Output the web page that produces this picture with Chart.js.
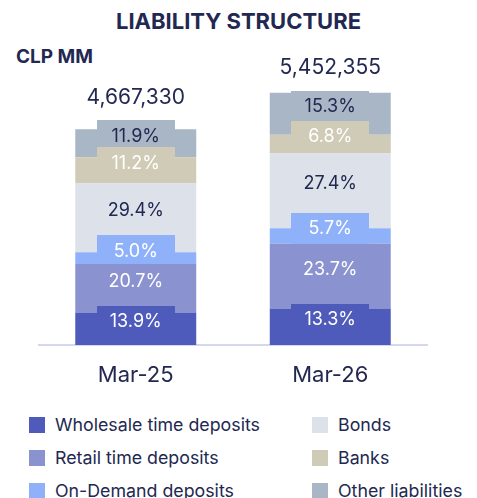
<!DOCTYPE html>
<html>
<head>
<meta charset="utf-8">
<script src="https://cdn.jsdelivr.net/npm/chart.js@4/dist/chart.umd.min.js"></script>
<style>
  html, body { margin:0; padding:0; background:#fff; }
  body { width:477px; height:498px; position:relative; overflow:hidden; font-family: Inter, "Noto Sans", sans-serif; color:#222851; }
  #c { position:absolute; left:0; top:0; }
  #title { position:absolute; left:0; width:477px; top:8px; text-align:center; font-weight:700; font-size:22px; letter-spacing:0px; }
  #unit { position:absolute; left:16px; top:45px; font-weight:700; font-size:19px; }
  .lg { position:absolute; font-size:17.8px; line-height:20px; white-space:nowrap; }
  .lg i { position:absolute; left:0; top:2px; width:16px; height:16px; }
  .lg span { position:absolute; left:26px; top:0; }
</style>
</head>
<body>
<div id="title">LIABILITY STRUCTURE</div>
<div id="unit">CLP MM</div>
<canvas id="c" width="477" height="400"></canvas>
<div id="legend"></div>
<script>
const categories = ['Mar-25', 'Mar-26'];
const totals = [4667330, 5452355];
const seriesNames = ['Wholesale time deposits', 'Retail time deposits', 'On-Demand deposits', 'Bonds', 'Banks', 'Other liabilities'];
const wholesalePct = [13.9, 13.3];
const retailPct = [20.7, 23.7];
const onDemandPct = [5.0, 5.7];
const bondsPct = [29.4, 27.4];
const banksPct = [11.2, 6.8];
const otherPct = [11.9, 15.3];
const seriesPct = [wholesalePct, retailPct, onDemandPct, bondsPct, banksPct, otherPct];
const seriesColors = ['#4f5bbb', '#8a93d0', '#8fb1fa', '#dde1e9', '#cfcbb7', '#a8b6c5'];
const labelColors = ['#ffffff', '#ffffff', '#ffffff', '#222851', '#ffffff', '#222851'];
const DARK = '#222851';

const datasets = seriesNames.map((name, i) => ({
  label: name,
  data: seriesPct[i].map((p, j) => p / 100 * totals[j]),
  pct: seriesPct[i],
  backgroundColor: seriesColors[i],
  borderWidth: 0,
  barPercentage: 0.622,
  categoryPercentage: 1.0
}));

const labelPlugin = {
  id: 'segLabels',
  afterDatasetsDraw(chart) {
    const ctx = chart.ctx;
    const n = chart.data.datasets.length;
    const info = [];
    for (let i = 0; i < n; i++) {
      const meta = chart.getDatasetMeta(i);
      info[i] = meta.data.map(el => {
        const p = el.getProps(['x', 'y', 'base', 'width'], true);
        return { x: p.x, top: Math.min(p.y, p.base), base: Math.max(p.y, p.base), ly: (p.y + p.base) / 2 - 7 };
      });
    }
    const boxW = 78;
    ctx.save();
    for (let i = n - 1; i >= 0; i--) {
      info[i].forEach(s => {
        ctx.fillStyle = seriesColors[i];
        ctx.fillRect(Math.round(s.x - boxW / 2), Math.round(s.ly - 16), boxW, Math.round(s.base - (s.ly - 16)));
      });
    }
    ctx.font = '18px Inter, "Noto Sans", sans-serif';
    ctx.textAlign = 'center';
    ctx.textBaseline = 'middle';
    for (let i = 0; i < n; i++) {
      const ds = chart.data.datasets[i];
      info[i].forEach((s, j) => {
        ctx.fillStyle = labelColors[i];
        ctx.fillText(ds.pct[j].toFixed(1) + '%', s.x, s.ly);
      });
    }
    ctx.font = '21px Inter, "Noto Sans", sans-serif';
    ctx.fillStyle = DARK;
    categories.forEach((c, j) => {
      let topY = Infinity;
      for (let i = 0; i < n; i++) topY = Math.min(topY, info[i][j].top, info[i][j].ly - 16);
      ctx.fillText(totals[j].toLocaleString('en-US'), info[0][j].x, topY - 23);
    });
    ctx.restore();
  }
};

new Chart(document.getElementById('c'), {
  type: 'bar',
  data: { labels: categories, datasets },
  options: {
    responsive: false,
    animation: false,
    maintainAspectRatio: false,
    layout: { padding: { left: 38.5, right: 49.5, top: 44, bottom: 0 } },
    plugins: { legend: { display: false }, title: { display: false }, tooltip: { enabled: false } },
    scales: {
      x: {
        stacked: true,
        grid: { display: false, drawTicks: false },
        border: { display: true, color: '#d5d7ef', width: 2 },
        ticks: { color: DARK, font: { family: 'Inter, "Noto Sans", sans-serif', size: 22 }, padding: 17 },
        afterFit(scale) { scale.height = 55; }
      },
      y: {
        stacked: true,
        display: false,
        min: 0,
        max: 6000000
      }
    }
  },
  plugins: [labelPlugin]
});

const lg = document.getElementById('legend');
const colX = [29, 312];
const rowY = [415, 448, 481];
seriesNames.forEach((name, i) => {
  const d = document.createElement('div');
  d.className = 'lg';
  d.style.left = colX[Math.floor(i / 3)] + 'px';
  d.style.top = rowY[i % 3] + 'px';
  d.innerHTML = '<i style="background:' + seriesColors[i] + '"></i><span>' + name + '</span>';
  lg.appendChild(d);
});
</script>
</body>
</html>
